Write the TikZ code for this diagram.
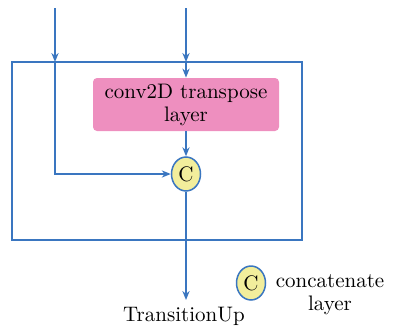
\documentclass[tikz,border=0pt]{standalone}
\usetikzlibrary{arrows.meta,shapes.geometric}
\definecolor{lineblue}{HTML}{3A76C0}
\definecolor{boxpink}{HTML}{EE8FBF}
\definecolor{catyellow}{HTML}{F2EE9C}
\begin{document}
\begin{tikzpicture}[x=0.5pt,y=-0.5pt,font=\fontsize{10.5}{11.5}\selectfont,align=center,
  flow/.style={draw=lineblue,line width=0.75pt},
  arr/.style={flow,-{Stealth[length=4.5pt,width=3.6pt]}},
  catnode/.style={ellipse,draw=lineblue,line width=0.75pt,fill=catyellow,minimum width=14.5pt,minimum height=17pt,inner sep=0pt}]
\useasboundingbox (0,0) rectangle (396,327);
\draw[flow] (12,62) rectangle (302,240);
\node[fill=boxpink,rounded corners=2pt,minimum width=93pt,minimum height=26.5pt,inner sep=0pt] (conv) at (186,104.5) {conv2D transpose\\layer};
\node[catnode] (cat) at (186,174) {C};
\coordinate (inL) at (55,8);
\coordinate (edgeL) at (55,62);
\coordinate (turn) at (55,174);
\coordinate (inR) at (186,8);
\coordinate (edgeR) at (186,62);
\coordinate (outD) at (186,300);
\draw[arr] (inL) -- (edgeL);
\draw[arr] (edgeL) -- (turn) -- (cat);
\draw[arr] (inR) -- (edgeR);
\draw[arr] (edgeR) -- (conv);
\draw[arr] (conv) -- (cat);
\draw[arr] (cat) -- (outD);
\node (out) at (184,316) {TransitionUp};
\node[catnode] (legcat) at (251,283) {C};
\node (legtext) at (330,295) {concatenate\\layer};
\end{tikzpicture}
\end{document}
